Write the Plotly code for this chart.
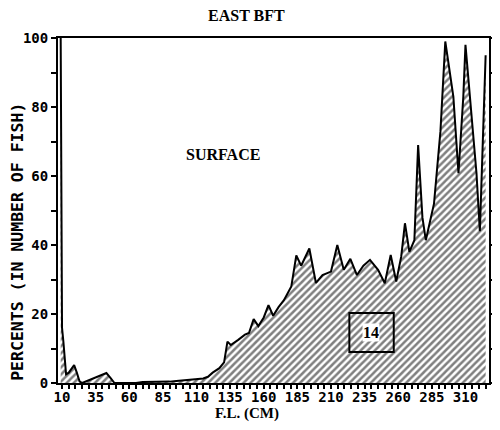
import plotly.graph_objects as go

# Fork length (cm) and percent of fish
fl_cm = [9, 10, 11, 12, 13, 15, 17, 19, 21, 23, 25, 28, 31, 35, 39, 43, 46, 49,
         55, 60, 65, 70, 75, 80, 85, 90, 95, 100, 105, 110, 115, 118.5, 122, 127,
         130.5, 133, 135.5, 141, 146, 149, 152.5, 156, 160, 163.5, 167, 171, 175,
         180.5, 184.2, 187.8, 193.9, 198.8, 203.7, 210, 214.7, 219.5, 224.4, 229.3,
         234.1, 239, 245, 250, 254.4, 258.5, 262.2, 265, 268.3, 272, 274.8, 278,
         280.5, 286.6, 291.4, 295, 297.5, 301, 304.8, 308.4, 310, 313.4, 318.2,
         320.7, 323, 325]
percent = [100, 16, 12, 6, 2.5, 3, 4, 5.2, 3, 0.5, 0, 0.5, 1, 1.5, 2.2, 2.9, 1.5, 0,
           0, 0, 0, 0.3, 0.3, 0.3, 0.3, 0.4, 0.6, 0.8, 1, 1.1, 1.3, 1.8, 3, 4.3,
           6, 12, 11, 12.5, 14, 14.5, 18.5, 16.5, 19, 22.6, 19.5, 22, 24,
           28, 37, 34, 39, 29, 31.3, 32.3, 40, 32.8, 36, 31.3,
           34, 35.7, 32.8, 28.9, 37.1, 29.4, 36.6, 46.3, 38, 41.4, 69, 48,
           41.4, 52, 73, 99, 92.7, 83, 60.8, 83, 98, 83, 60.8,
           44, 70, 95]

x_tickvals = list(range(10, 330, 5))
x_ticktext = [str(v) if (v - 10) % 25 == 0 else "" for v in x_tickvals]
y_tickvals = list(range(0, 101, 10))
y_ticktext = [str(v) if v % 20 == 0 else "" for v in y_tickvals]

title_text = "EAST BFT"
x_title = "F.L. (CM)"
y_title = "PERCENTS (IN NUMBER OF FISH)"
label_text = "SURFACE"
box_text = "14"

fig = go.Figure()
fig.add_trace(go.Scatter(
    x=fl_cm, y=percent, mode="lines",
    line=dict(color="black", width=2),
    fill="tozeroy", fillcolor="white",
    fillpattern=dict(shape="/", fgcolor="black", bgcolor="white", size=5, solidity=0.5),
    showlegend=False, hoverinfo="skip",
))

tickfont = dict(family="DejaVu Sans Mono", size=14, color="black", weight=700)
serif = dict(family="Liberation Serif", color="black", weight=700)

fig.update_layout(
    width=492, height=422,
    margin=dict(l=50, r=4, t=30, b=47),
    paper_bgcolor="white", plot_bgcolor="white",
    xaxis=dict(range=[7, 327.5], showgrid=False, zeroline=False,
               showline=True, linecolor="black", linewidth=2, mirror=True,
               ticks="outside", ticklen=4, tickwidth=1.5, tickcolor="black",
               ticklabelstandoff=-4,
               tickvals=x_tickvals, ticktext=x_ticktext, tickfont=tickfont),
    yaxis=dict(range=[0, 100], showgrid=False, zeroline=False,
               showline=True, linecolor="black", linewidth=2, mirror="ticks",
               ticks="outside", ticklen=5, tickwidth=1.5, tickcolor="black",
               tickvals=y_tickvals, ticktext=y_ticktext, tickfont=tickfont),
    annotations=[
        dict(text=title_text, xref="paper", yref="paper", x=0.438, y=1.064,
             showarrow=False, xanchor="center", yanchor="middle", borderpad=0,
             font=dict(size=16, **serif)),
        dict(text=x_title, xref="paper", yref="paper", x=0.438, y=-0.088,
             showarrow=False, xanchor="center", yanchor="middle", borderpad=0,
             font=dict(size=15, **serif)),
        dict(text=y_title, xref="paper", yref="paper", x=-0.093, y=0.409,
             showarrow=False, xanchor="center", yanchor="middle", textangle=-90,
             borderpad=0,
             font=dict(family="DejaVu Sans Mono", size=16.5, color="black", weight=700)),
        dict(text=label_text, xref="paper", yref="paper", x=0.3836, y=0.661,
             showarrow=False, xanchor="center", yanchor="middle",
             font=dict(size=16, **serif)),
        dict(text=box_text, xref="paper", yref="paper", x=0.726, y=0.145,
             showarrow=False, xanchor="center", yanchor="middle",
             bgcolor="white", borderpad=0,
             font=dict(size=16, **serif)),
    ],
    shapes=[
        dict(type="rect", xref="paper", yref="paper", x0=0.676, x1=0.779,
             y0=0.0899, y1=0.203, line=dict(color="black", width=2)),
    ],
)

fig.write_html("out.html")
